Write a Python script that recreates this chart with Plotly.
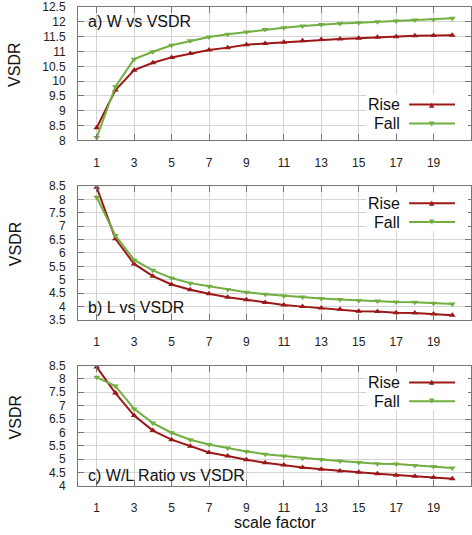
import plotly.graph_objects as go
from plotly.subplots import make_subplots

scale = list(range(1, 21))

w_rise = [8.43, 9.70, 10.37, 10.62, 10.80, 10.93, 11.05, 11.13, 11.23, 11.27,
          11.31, 11.36, 11.40, 11.42, 11.45, 11.48, 11.50, 11.53, 11.54, 11.55]
w_fall = [8.10, 9.81, 10.74, 10.99, 11.21, 11.36, 11.49, 11.58, 11.66, 11.74,
          11.80, 11.86, 11.91, 11.94, 11.97, 12.00, 12.03, 12.06, 12.08, 12.12]

l_rise = [8.46, 6.53, 5.59, 5.13, 4.82, 4.62, 4.47, 4.34, 4.25, 4.14,
          4.05, 3.99, 3.94, 3.89, 3.82, 3.81, 3.76, 3.75, 3.71, 3.67]
l_fall = [8.09, 6.65, 5.74, 5.35, 5.06, 4.87, 4.75, 4.63, 4.53, 4.45,
          4.39, 4.35, 4.29, 4.26, 4.22, 4.20, 4.16, 4.15, 4.12, 4.09]

r_rise = [8.44, 7.47, 6.63, 6.07, 5.73, 5.48, 5.25, 5.12, 4.98, 4.87,
          4.78, 4.69, 4.63, 4.56, 4.51, 4.46, 4.40, 4.36, 4.32, 4.27]
r_fall = [8.06, 7.73, 6.88, 6.35, 5.99, 5.73, 5.55, 5.42, 5.29, 5.19,
          5.12, 5.04, 4.99, 4.93, 4.88, 4.83, 4.82, 4.77, 4.73, 4.67]

x_ticks = list(range(1, 20, 2))
panel_titles = ["a) W vs VSDR", "b) L vs VSDR", "c) W/L Ratio vs VSDR"]
y_ranges = [(8, 12.5), (3.5, 8.5), (4, 8.5)]
y_dticks = [0.5, 0.5, 0.5]
series_names = ["Rise", "Fall"]

RED = "#9c1818"
GREEN = "#72ae40"
FONT = "Liberation Sans, Arial, sans-serif"

W, H = 472, 535
ML, MR, MT, MB = 78, 0, 5, 49
PW, PH = W - ML - MR, H - MT - MB


def px(x):
    return (x - ML) / PW


def py(y):
    return (H - MB - y) / PH


# pixel boxes of the three panels (top, bottom)
panels = [(5, 139), (185, 319), (365, 486)]

fig = make_subplots(rows=3, cols=1)

data = [(w_rise, w_fall), (l_rise, l_fall), (r_rise, r_fall)]
for i, (rise, fall) in enumerate(data):
    fig.add_trace(go.Scatter(x=scale, y=rise, mode="lines+markers", name=series_names[0],
                             line=dict(color=RED, width=2),
                             marker=dict(symbol="triangle-up", size=6, color=RED)),
                  row=i + 1, col=1)
    fig.add_trace(go.Scatter(x=scale, y=fall, mode="lines+markers", name=series_names[1],
                             line=dict(color=GREEN, width=2),
                             marker=dict(symbol="triangle-down", size=6, color=GREEN)),
                  row=i + 1, col=1)

axis_common = dict(showline=True, linecolor="#777777", linewidth=1, mirror="ticks",
                   ticks="inside", ticklen=6, tickcolor="#777777",
                   showgrid=True, gridcolor="#d4d4d4", gridwidth=1, zeroline=False,
                   tickfont=dict(family=FONT, size=12, color="#222222"))

for i, (top, bot) in enumerate(panels):
    n = "" if i == 0 else str(i + 1)
    fig.layout["xaxis" + n].update(domain=[0, 1], range=[0, 21], tickvals=x_ticks,
                                   ticklabelstandoff=11, **axis_common)
    fig.layout["yaxis" + n].update(domain=[py(bot), py(top)], range=list(y_ranges[i]),
                                   dtick=y_dticks[i], tick0=0, ticklabelstandoff=9,
                                   **axis_common)

annotations = []
shapes = []

label_y = [20, 307, 475]
title_y = [63, 243, 417]
legend_y = [(103, 122), (202, 221), (382, 401)]

for i in range(3):
    annotations.append(dict(text=panel_titles[i], x=px(86), y=py(label_y[i]),
                            xref="paper", yref="paper", xanchor="left", yanchor="middle",
                            showarrow=False, font=dict(family=FONT, size=16, color="#111111")))
    annotations.append(dict(text="VSDR", x=px(15), y=py(title_y[i]), textangle=-90,
                            xref="paper", yref="paper", xanchor="center", yanchor="middle",
                            showarrow=False, font=dict(family=FONT, size=16, color="#111111")))
    ry, fy = legend_y[i]
    shapes.append(dict(type="rect", xref="paper", yref="paper",
                       x0=px(367), x1=px(469), y0=py(fy + 9), y1=py(ry - 10),
                       fillcolor="white", line=dict(width=0), layer="above"))
    for name, yy, col, sym in [(series_names[0], ry, RED, "▲"), (series_names[1], fy, GREEN, "▼")]:
        annotations.append(dict(text=name, x=px(403), y=py(yy), xref="paper", yref="paper",
                                xanchor="right", yanchor="middle", showarrow=False,
                                font=dict(family=FONT, size=16, color="#111111")))
        shapes.append(dict(type="line", xref="paper", yref="paper",
                           x0=px(410), x1=px(456), y0=py(yy), y1=py(yy),
                           line=dict(color=col, width=2), layer="above"))
        annotations.append(dict(text=sym, x=px(433), y=py(yy), xref="paper", yref="paper",
                                xanchor="center", yanchor="middle", showarrow=False,
                                font=dict(family="DejaVu Sans", size=7, color=col)))

annotations.append(dict(text="scale factor", x=px(275), y=py(523), xref="paper", yref="paper",
                        xanchor="center", yanchor="middle", showarrow=False,
                        font=dict(family=FONT, size=16, color="#111111")))

fig.update_layout(width=W, height=H, margin=dict(l=ML, r=MR, t=MT, b=MB),
                  plot_bgcolor="white", paper_bgcolor="white", showlegend=False,
                  annotations=annotations, shapes=shapes)

# the page's default body margin would push the figure 8px down and right
fig.write_html("out.html", config={"displayModeBar": False},
               post_script="document.body.style.margin='0';")
